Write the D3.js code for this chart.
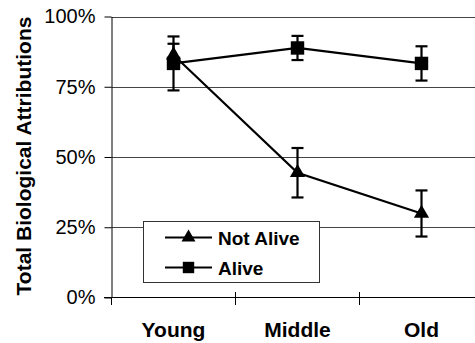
<!DOCTYPE html>
<html>
<head>
<meta charset="utf-8">
<script src="https://cdn.jsdelivr.net/npm/d3@7"></script>
<style>
  body { margin: 0; background: #fff; }
  svg { display: block; font-family: "Liberation Sans", Arial, sans-serif; }
</style>
</head>
<body>
<svg id="chart"></svg>
<script>
// Data
const categories = ["Young", "Middle", "Old"];
const notAlive = [86.3, 44.4, 29.9];
const notAliveErr = [4.0, 8.8, 8.2];
const alive = [83.3, 88.8, 83.3];
const aliveErr = [9.6, 4.3, 6.1];
const yTicks = [0, 25, 50, 75, 100];

const W = 475, H = 343;
const svg = d3.select("#chart").attr("width", W).attr("height", H);

// Scales
const x = d3.scaleBand().domain(categories).range([111.5, 483.5]);
const y = d3.scaleLinear().domain([0, 100]).range([297.5, 16.5]);
const cx = d => x(d) + x.bandwidth() / 2;

// Gridlines
svg.append("g")
  .selectAll("line")
  .data(yTicks.filter(t => t > 0))
  .enter().append("line")
    .attr("x1", 111.5).attr("x2", W)
    .attr("y1", d => Math.round(y(d)) + 0.5)
    .attr("y2", d => Math.round(y(d)) + 0.5)
    .attr("stroke", "#444").attr("stroke-width", 1);

// Y axis
const yAxis = svg.append("g")
  .attr("transform", "translate(111.5,0)")
  .call(d3.axisLeft(y).tickValues(yTicks).tickFormat(d => d + "%").tickSize(7).tickSizeOuter(0));
yAxis.select(".domain").attr("stroke", "#000");
yAxis.selectAll(".tick line").attr("stroke", "#000");
yAxis.selectAll(".tick text")
  .attr("font-size", 20).attr("fill", "#000")
  .attr("x", -16)
  .attr("font-family", "Liberation Sans, Arial, sans-serif");

// X axis
svg.append("line")
  .attr("x1", 104).attr("x2", W)
  .attr("y1", 297.5).attr("y2", 297.5)
  .attr("stroke", "#000");
const xEdges = categories.map(c => x(c));
svg.append("g").selectAll("line")
  .data(xEdges)
  .enter().append("line")
    .attr("x1", d => Math.round(d) - 0.5).attr("x2", d => Math.round(d) - 0.5)
    .attr("y1", (d, i) => i === 0 ? 297 : 292)
    .attr("y2", 305)
    .attr("stroke", "#000");
svg.append("g").selectAll("text")
  .data(categories)
  .enter().append("text")
    .attr("x", d => cx(d))
    .attr("y", 337)
    .attr("text-anchor", "middle")
    .attr("font-size", 21).attr("font-weight", "bold")
    .text(d => d);

// Y axis title
svg.append("text")
  .attr("transform", "translate(31,156) rotate(-90)")
  .attr("text-anchor", "middle")
  .attr("font-size", 21).attr("font-weight", "bold")
  .text("Total Biological Attributions");

// Series
const series = [
  { name: "Not Alive", values: notAlive, err: notAliveErr, shape: d3.symbolTriangle },
  { name: "Alive", values: alive, err: aliveErr, shape: d3.symbolSquare }
];

const line = d3.line()
  .x((d, i) => cx(categories[i]))
  .y(d => y(d));

series.forEach(s => {
  const g = svg.append("g");
  g.append("path")
    .datum(s.values)
    .attr("d", line)
    .attr("fill", "none")
    .attr("stroke", "#000")
    .attr("stroke-width", 2.2);

  // Error bars
  const eb = g.selectAll(".err")
    .data(s.values.map((v, i) => ({ v, e: s.err[i], c: categories[i] })))
    .enter().append("g");
  eb.append("line")
    .attr("x1", d => cx(d.c)).attr("x2", d => cx(d.c))
    .attr("y1", d => y(d.v + d.e)).attr("y2", d => y(d.v - d.e))
    .attr("stroke", "#000").attr("stroke-width", 2.2);
  [1, -1].forEach(sgn => {
    eb.append("line")
      .attr("x1", d => cx(d.c) - 6).attr("x2", d => cx(d.c) + 6)
      .attr("y1", d => y(d.v + sgn * d.e)).attr("y2", d => y(d.v + sgn * d.e))
      .attr("stroke", "#000").attr("stroke-width", 2.2);
  });

  // Markers
  g.selectAll(".mk")
    .data(s.values)
    .enter().append("path")
      .attr("transform", (d, i) => `translate(${cx(categories[i])},${y(d)})`)
      .attr("d", d3.symbol().type(s.shape).size(s.shape === d3.symbolSquare ? 180 : 100))
      .attr("fill", "#000");
});

// Legend
const legend = svg.append("g");
legend.append("rect")
  .attr("x", 143.5).attr("y", 221.5)
  .attr("width", 176).attr("height", 61)
  .attr("fill", "#fff").attr("stroke", "#333").attr("stroke-width", 1);
series.forEach((s, i) => {
  const ly = 237.5 + i * 30;
  legend.append("line")
    .attr("x1", 165).attr("x2", 212)
    .attr("y1", ly).attr("y2", ly)
    .attr("stroke", "#000").attr("stroke-width", 2.2);
  legend.append("path")
    .attr("transform", `translate(188.5,${ly})`)
    .attr("d", d3.symbol().type(s.shape).size(s.shape === d3.symbolSquare ? 130 : 85))
    .attr("fill", "#000");
  legend.append("text")
    .attr("x", 218).attr("y", ly + 7)
    .attr("font-size", 19).attr("font-weight", "bold")
    .text(s.name);
});
</script>
</body>
</html>
